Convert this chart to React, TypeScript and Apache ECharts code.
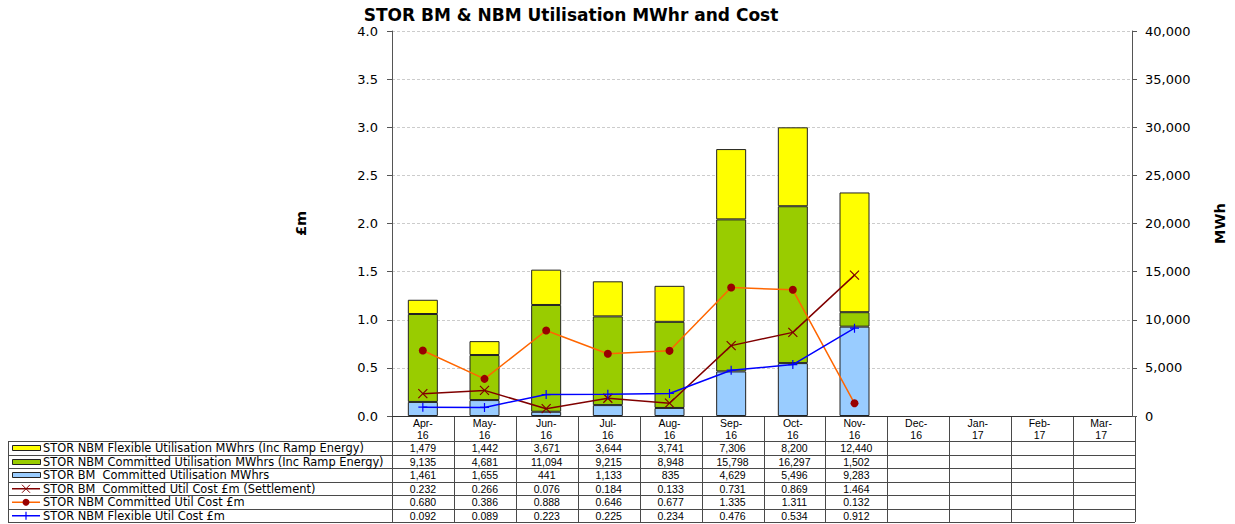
import React, { useEffect, useRef } from "react";
import * as echarts from "echarts";

const months = ["Apr-16", "May-16", "Jun-16", "Jul-16", "Aug-16", "Sep-16", "Oct-16", "Nov-16", "Dec-16", "Jan-17", "Feb-17", "Mar-17"];

const nbmFlexMWh = [1479, 1442, 3671, 3644, 3741, 7306, 8200, 12440];
const nbmCommittedMWh = [9135, 4681, 11094, 9215, 8948, 15798, 16297, 1502];
const bmCommittedMWh = [1461, 1655, 441, 1133, 835, 4629, 5496, 9283];
const bmCommittedCost = [0.232, 0.266, 0.076, 0.184, 0.133, 0.731, 0.869, 1.464];
const nbmCommittedCost = [0.68, 0.386, 0.888, 0.646, 0.677, 1.335, 1.311, 0.132];
const nbmFlexCost = [0.092, 0.089, 0.223, 0.225, 0.234, 0.476, 0.534, 0.912];

const seriesNames = [
  "STOR NBM Flexible Utilisation MWhrs (Inc Ramp Energy)",
  "STOR NBM Committed Utilisation MWhrs (Inc Ramp Energy)",
  "STOR BM  Committed Utilisation MWhrs",
  "STOR BM  Committed Util Cost £m (Settlement)",
  "STOR NBM Committed Util Cost £m",
  "STOR NBM Flexible Util Cost £m",
];

const YELLOW = "#FFFF00";
const GREEN = "#99CC00";
const LBLUE = "#99CCFF";
const DRED = "#800000";
const ORANGE = "#FF6600";
const MARK_RED = "#990000";
const BLUE = "#0000FF";

const W = 1235;
const H = 524;
const GL = 392;
const GR = 1135;
const GT = 31;
const GB = 416;
const HDR_B = 441;
const ROW_H = 13.5;
const TBL_L = 8;

const X_SYMBOL = "path://M0,0L10,10M10,0L0,10";
const PLUS_SYMBOL = "path://M5,0L5,10M0,5L10,5";

function buildTable(): any[] {
  const els: any[] = [];
  const n = months.length;
  const colW = (GR - GL) / n;
  const lineStyle = { stroke: "#4a4a4a", lineWidth: 1 };
  const nRows = seriesNames.length;
  const bottom = HDR_B + nRows * ROW_H;
  for (let r = 0; r <= nRows; r++) {
    const y = Math.round(HDR_B + r * ROW_H) + 0.5;
    els.push({ type: "line", silent: true, shape: { x1: TBL_L, y1: y, x2: GR, y2: y }, style: lineStyle });
  }
  els.push({ type: "line", silent: true, shape: { x1: TBL_L + 0.5, y1: HDR_B, x2: TBL_L + 0.5, y2: bottom }, style: lineStyle });
  for (let i = 0; i <= n; i++) {
    const x = Math.round(GL + i * colW) + 0.5;
    els.push({ type: "line", silent: true, shape: { x1: x, y1: GB, x2: x, y2: bottom }, style: lineStyle });
  }
  const data = [nbmFlexMWh, nbmCommittedMWh, bmCommittedMWh, bmCommittedCost, nbmCommittedCost, nbmFlexCost];
  data.forEach((arr, r) => {
    const cy = HDR_B + (r + 0.5) * ROW_H + 0.5;
    arr.forEach((v, i) => {
      const txt = r < 3 ? v.toLocaleString("en-US") : v.toFixed(3);
      els.push({
        type: "text",
        silent: true,
        x: GL + (i + 0.5) * colW,
        y: cy,
        style: { text: txt, fill: "#000", font: "10.5px 'Liberation Sans', Arial, sans-serif", align: "center", verticalAlign: "middle" },
      });
    });
    els.push({
      type: "text",
      silent: true,
      x: 43,
      y: cy,
      style: { text: seriesNames[r], fill: "#000", font: "11.4px 'DejaVu Sans', sans-serif", align: "left", verticalAlign: "middle" },
    });
    const fills = [YELLOW, GREEN, LBLUE];
    if (r < 3) {
      els.push({
        type: "rect",
        silent: true,
        shape: { x: 12.5, y: Math.round(cy - 3) + 0.5, width: 28, height: 5 },
        style: { fill: fills[r], stroke: "#222", lineWidth: 1 },
      });
    } else {
      const col = [DRED, ORANGE, BLUE][r - 3];
      els.push({ type: "line", silent: true, shape: { x1: 12, y1: cy, x2: 40, y2: cy }, style: { stroke: col, lineWidth: 1.5 } });
      if (r === 3) {
        els.push({ type: "line", silent: true, shape: { x1: 22, y1: cy - 4, x2: 30, y2: cy + 4 }, style: { stroke: DRED, lineWidth: 1 } });
        els.push({ type: "line", silent: true, shape: { x1: 30, y1: cy - 4, x2: 22, y2: cy + 4 }, style: { stroke: DRED, lineWidth: 1 } });
      } else if (r === 4) {
        els.push({ type: "circle", silent: true, shape: { cx: 26, cy: cy, r: 3.5 }, style: { fill: MARK_RED } });
      } else {
        els.push({ type: "line", silent: true, shape: { x1: 26, y1: cy - 4, x2: 26, y2: cy + 4 }, style: { stroke: BLUE, lineWidth: 1.2 } });
      }
    }
  });
  els.push({
    type: "text",
    silent: true,
    x: 571,
    y: 15,
    style: {
      text: "STOR BM & NBM Utilisation MWhr and Cost",
      fill: "#000",
      font: "bold 17px 'DejaVu Sans', sans-serif",
      align: "center",
      verticalAlign: "middle",
    },
  });
  return els;
}

export default function App() {
  const ref = useRef<HTMLDivElement>(null);
  useEffect(() => {
    if (!ref.current) return;
    const chart = echarts.init(ref.current, null, { renderer: "svg", width: W, height: H });
    const axisFont = { fontFamily: "'DejaVu Sans', sans-serif", fontSize: 13, color: "#000" };
    const nameStyle = { fontFamily: "'DejaVu Sans', sans-serif", fontSize: 14.5, fontWeight: "bold", color: "#000" };
    const option: any = {
      animation: false,
      backgroundColor: "#fff",
      grid: { left: GL, right: W - GR, top: GT, bottom: H - GB, containLabel: false },
      xAxis: {
        type: "category",
        data: months,
        boundaryGap: true,
        axisLine: { show: true, lineStyle: { color: "#333", width: 1 } },
        axisTick: { show: false },
        axisLabel: {
          formatter: (v: string) => v.replace("-", "-\n"),
          fontFamily: "'Liberation Sans', Arial, sans-serif",
          fontSize: 10.5,
          lineHeight: 12,
          color: "#000",
          margin: 1,
          interval: 0,
        },
      },
      yAxis: [
        {
          type: "value",
          position: "left",
          min: 0,
          max: 4,
          interval: 0.5,
          name: "£m",
          nameLocation: "middle",
          nameGap: 84,
          nameRotate: 90,
          nameTextStyle: nameStyle,
          axisLine: { show: true, lineStyle: { color: "#555", width: 1 } },
          axisTick: { show: true, inside: false, length: 5, lineStyle: { color: "#555" } },
          axisLabel: { ...axisFont, margin: 14, formatter: (v: number) => v.toFixed(1) },
          splitLine: { show: true, lineStyle: { color: "#cccccc", type: [3, 2], width: 1 } },
        },
        {
          type: "value",
          position: "right",
          min: 0,
          max: 40000,
          interval: 5000,
          name: "MWh",
          nameLocation: "middle",
          nameGap: 80,
          nameRotate: 90,
          nameTextStyle: nameStyle,
          axisLine: { show: true, lineStyle: { color: "#555", width: 1 } },
          axisTick: { show: true, inside: false, length: 5, lineStyle: { color: "#555" } },
          axisLabel: { ...axisFont, margin: 13, formatter: (v: number) => v.toLocaleString("en-US") },
          splitLine: { show: false },
        },
      ],
      series: [
        {
          name: seriesNames[2],
          type: "bar",
          stack: "mwh",
          yAxisIndex: 1,
          barWidth: 30,
          data: bmCommittedMWh,
          itemStyle: { color: LBLUE, borderColor: "#222", borderWidth: 1 },
        },
        {
          name: seriesNames[1],
          type: "bar",
          stack: "mwh",
          yAxisIndex: 1,
          barWidth: 30,
          data: nbmCommittedMWh,
          itemStyle: { color: GREEN, borderColor: "#222", borderWidth: 1 },
        },
        {
          name: seriesNames[0],
          type: "bar",
          stack: "mwh",
          yAxisIndex: 1,
          barWidth: 30,
          data: nbmFlexMWh,
          itemStyle: { color: YELLOW, borderColor: "#222", borderWidth: 1 },
        },
        {
          name: seriesNames[3],
          type: "line",
          yAxisIndex: 0,
          data: bmCommittedCost,
          symbol: X_SYMBOL,
          symbolSize: 9,
          showAllSymbol: true,
          lineStyle: { color: DRED, width: 1.5 },
          itemStyle: { color: DRED, borderColor: DRED, borderWidth: 1.2 },
          z: 5,
        },
        {
          name: seriesNames[4],
          type: "line",
          yAxisIndex: 0,
          data: nbmCommittedCost,
          symbol: "circle",
          symbolSize: 8,
          showAllSymbol: true,
          lineStyle: { color: ORANGE, width: 1.5 },
          itemStyle: { color: MARK_RED, borderWidth: 0 },
          z: 5,
        },
        {
          name: seriesNames[5],
          type: "line",
          yAxisIndex: 0,
          data: nbmFlexCost,
          symbol: PLUS_SYMBOL,
          symbolSize: 9,
          showAllSymbol: true,
          lineStyle: { color: BLUE, width: 1.5 },
          itemStyle: { color: BLUE, borderColor: BLUE, borderWidth: 1.2 },
          z: 5,
        },
      ],
      graphic: buildTable(),
    };
    chart.setOption(option);
    return () => chart.dispose();
  }, []);
  return (
    <div
      ref={ref}
      style={{ position: "fixed", left: 0, top: 0, width: W, height: H, background: "#fff" }}
    />
  );
}
